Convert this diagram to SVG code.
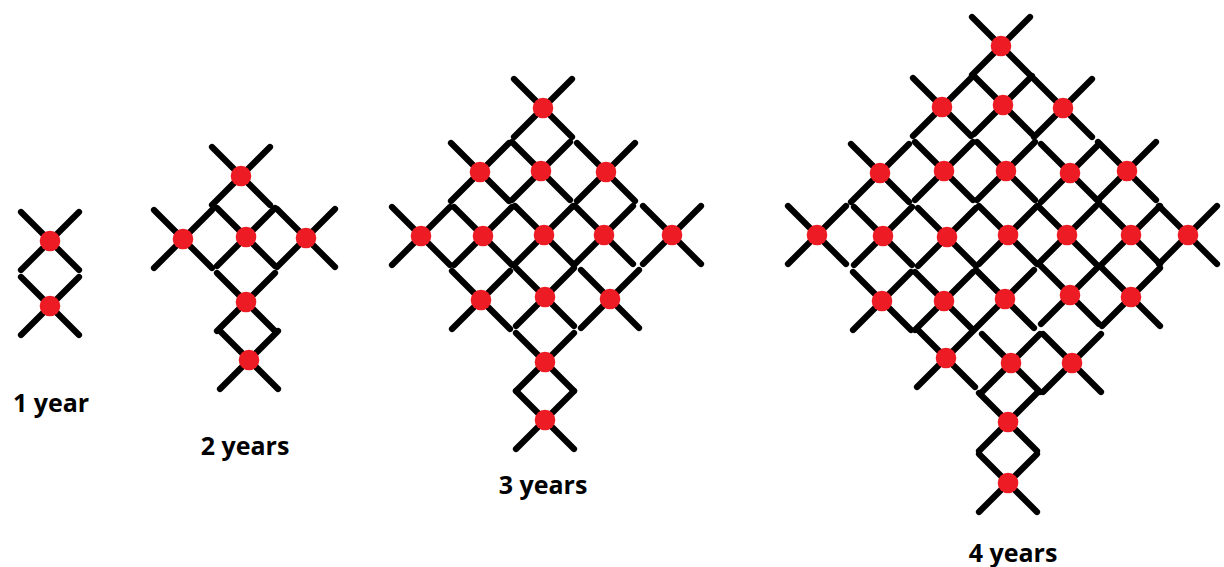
<svg xmlns="http://www.w3.org/2000/svg" xmlns:xlink="http://www.w3.org/1999/xlink" width="1224" height="567" viewBox="0 0 1224 567">
<style>
.stick{stroke:#000;stroke-width:6.2;stroke-linecap:round;fill:none}
.dot{fill:#ED1C24}
.lbl{font-family:"Open Sans","Liberation Sans",sans-serif;font-weight:bold;font-size:25px;fill:#000;text-anchor:middle}
</style>
<defs>
<g id="x"><path class="stick" d="M-29,-29L29,29M-29,29L29,-29"/><circle class="dot" r="10.3"/></g>
</defs>
<rect width="1224" height="567" fill="#fff"/>
<g id="year1">
<g id="y1n1"><use xlink:href="#x" x="50" y="241"/></g>
<g id="y1n2"><use xlink:href="#x" x="50" y="306"/></g>
<text class="lbl" x="51" y="412">1 year</text>
</g>
<g id="year2">
<g id="y2n1"><use xlink:href="#x" x="241" y="176"/></g>
<g id="y2n2"><use xlink:href="#x" x="183" y="239"/></g>
<g id="y2n3"><use xlink:href="#x" x="246" y="237"/></g>
<g id="y2n4"><use xlink:href="#x" x="306" y="238"/></g>
<g id="y2n5"><use xlink:href="#x" x="246" y="302"/></g>
<g id="y2n6"><use xlink:href="#x" x="249" y="360"/></g>
<text class="lbl" x="245" y="455">2 years</text>
</g>
<g id="year3">
<g id="y3n1"><use xlink:href="#x" x="543" y="108"/></g>
<g id="y3n2"><use xlink:href="#x" x="480" y="172"/></g>
<g id="y3n3"><use xlink:href="#x" x="541" y="171"/></g>
<g id="y3n4"><use xlink:href="#x" x="606" y="172"/></g>
<g id="y3n5"><use xlink:href="#x" x="421" y="236"/></g>
<g id="y3n6"><use xlink:href="#x" x="483" y="236"/></g>
<g id="y3n7"><use xlink:href="#x" x="544" y="235"/></g>
<g id="y3n8"><use xlink:href="#x" x="604" y="235"/></g>
<g id="y3n9"><use xlink:href="#x" x="672" y="235"/></g>
<g id="y3n10"><use xlink:href="#x" x="481" y="300"/></g>
<g id="y3n11"><use xlink:href="#x" x="545" y="297"/></g>
<g id="y3n12"><use xlink:href="#x" x="610" y="299"/></g>
<g id="y3n13"><use xlink:href="#x" x="545" y="362"/></g>
<g id="y3n14"><use xlink:href="#x" x="545" y="420"/></g>
<text class="lbl" x="543" y="494">3 years</text>
</g>
<g id="year4">
<g id="y4n1"><use xlink:href="#x" x="1001" y="46"/></g>
<g id="y4n2"><use xlink:href="#x" x="942" y="107"/></g>
<g id="y4n3"><use xlink:href="#x" x="1003" y="105"/></g>
<g id="y4n4"><use xlink:href="#x" x="1063" y="108"/></g>
<g id="y4n5"><use xlink:href="#x" x="880" y="173"/></g>
<g id="y4n6"><use xlink:href="#x" x="944" y="171"/></g>
<g id="y4n7"><use xlink:href="#x" x="1006" y="171"/></g>
<g id="y4n8"><use xlink:href="#x" x="1070" y="173"/></g>
<g id="y4n9"><use xlink:href="#x" x="1127" y="171"/></g>
<g id="y4n10"><use xlink:href="#x" x="817" y="235"/></g>
<g id="y4n11"><use xlink:href="#x" x="883" y="236"/></g>
<g id="y4n12"><use xlink:href="#x" x="947" y="237"/></g>
<g id="y4n13"><use xlink:href="#x" x="1008" y="235"/></g>
<g id="y4n14"><use xlink:href="#x" x="1067" y="235"/></g>
<g id="y4n15"><use xlink:href="#x" x="1131" y="235"/></g>
<g id="y4n16"><use xlink:href="#x" x="1188" y="235"/></g>
<g id="y4n17"><use xlink:href="#x" x="882" y="301"/></g>
<g id="y4n18"><use xlink:href="#x" x="944" y="301"/></g>
<g id="y4n19"><use xlink:href="#x" x="1005" y="299"/></g>
<g id="y4n20"><use xlink:href="#x" x="1070" y="295"/></g>
<g id="y4n21"><use xlink:href="#x" x="1131" y="297"/></g>
<g id="y4n22"><use xlink:href="#x" x="946" y="358"/></g>
<g id="y4n23"><use xlink:href="#x" x="1011" y="363"/></g>
<g id="y4n24"><use xlink:href="#x" x="1072" y="363"/></g>
<g id="y4n25"><use xlink:href="#x" x="1008" y="422"/></g>
<g id="y4n26"><use xlink:href="#x" x="1008" y="483"/></g>
<text class="lbl" x="1013" y="562">4 years</text>
</g>
<g id="connectors"/>
</svg>
